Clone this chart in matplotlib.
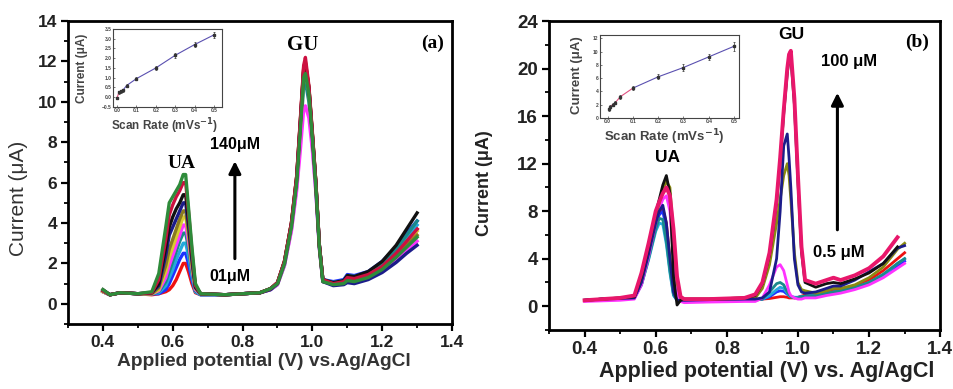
import matplotlib
matplotlib.use("Agg", force=True)
import matplotlib.pyplot as plt
import numpy as np

nan = float("nan")

# ---------------- panel (a) data ----------------
x_a = [0.40, 0.42, 0.45, 0.50,
       0.54, 0.56, 0.58, 0.59, 0.60, 0.61, 0.62, 0.63, 0.637, 0.645, 0.655, 0.665, 0.68,
       0.75, 0.85,
       0.88, 0.90, 0.92, 0.94, 0.955, 0.965, 0.975, 0.98, 0.99, 1.00, 1.01, 1.02, 1.03,
       1.06, 1.09, 1.10, 1.12, 1.16, 1.20, 1.24, 1.27, 1.30]

a_red = [0.65, 0.45, 0.55, 0.50,
         0.45, 0.50, 0.60, 0.70, 0.90, 1.2, 1.6, 2.0, 2.0, 1.6, 1.0, 0.55, 0.45,
         0.45, 0.55,
         0.75, 1.05, 2.1, 4.0, 6.3, 8.9, 11.7, 12.0, 10.7, 8.4, 6.0, 2.9, 1.2,
         1.0, 1.05, 1.25, 1.2, 1.4, 1.8, 2.5, 3.1, 3.7]
a_blue = [0.60, 0.45, 0.55, 0.50,
          0.50, 0.50, 0.70, 1.0, 1.4, 1.8, 2.2, 2.5, 2.5, 2.0, 1.2, 0.60, 0.45,
          0.45, 0.55,
          0.75, 1.0, 2.0, 3.9, 6.1, 8.7, 11.4, 11.7, 10.5, 8.3, 5.9, 2.9, 1.2,
          1.1, 1.2, 1.45, 1.4, 1.6, 2.1, 2.8, 3.5, 4.1]
a_cyan = [0.60, 0.45, 0.55, 0.50,
          0.50, 0.55, 0.90, 1.3, 1.7, 2.2, 2.6, 3.0, 3.0, 2.4, 1.4, 0.60, 0.45,
          0.45, 0.55,
          0.75, 1.0, 2.0, 3.8, 6.0, 8.5, 11.2, 11.5, 10.4, 8.2, 5.8, 2.8, 1.2,
          1.05, 1.15, 1.4, 1.35, 1.55, 2.0, 2.7, 3.3, 3.9]
a_teal = [0.60, 0.45, 0.55, 0.50,
          0.50, 0.60, 1.1, 1.6, 2.1, 2.6, 3.1, 3.5, 3.5, 2.8, 1.6, 0.65, 0.50,
          0.45, 0.55,
          0.70, 0.95, 1.9, 3.7, 5.8, 8.2, 10.8, 11.0, 10.0, 7.9, 5.6, 2.8, 1.1,
          1.05, 1.1, 1.35, 1.3, 1.55, 2.0, 2.7, 3.4, 4.1]
a_magenta = [0.60, 0.45, 0.55, 0.50,
             0.50, 0.65, 1.3, 1.9, 2.4, 2.9, 3.4, 3.9, 3.9, 3.1, 1.8, 0.70, 0.50,
             0.45, 0.55,
             0.70, 0.95, 1.9, 3.6, 5.6, 7.5, 9.6, 9.8, 9.2, 7.6, 5.5, 2.7, 1.1,
             0.95, 1.0, 1.15, 1.1, 1.3, 1.6, 2.1, 2.6, 3.1]
a_yellow = [0.60, 0.45, 0.55, 0.50,
            0.50, 0.70, 1.6, 2.3, 2.8, 3.3, 3.8, 4.3, 4.3, 3.4, 1.9, 0.75, 0.50,
            0.45, 0.55,
            0.75, 1.0, 2.0, 3.9, 6.1, 8.6, 11.3, 11.5, 10.5, 8.3, 5.9, 2.9, 1.1,
            1.0, 1.05, 1.25, 1.2, 1.4, 1.8, 2.4, 3.0, 3.6]
a_olive = [0.65, 0.45, 0.55, 0.50,
           0.50, 0.80, 1.9, 2.7, 3.2, 3.7, 4.2, 4.6, 4.6, 3.6, 2.0, 0.80, 0.50,
           0.45, 0.55,
           0.75, 1.0, 2.1, 4.0, 6.2, 8.8, 11.6, 11.9, 10.7, 8.4, 6.0, 2.9, 1.2,
           1.0, 1.05, 1.25, 1.2, 1.4, 1.8, 2.4, 2.9, 3.4]
a_navy = [0.65, 0.45, 0.55, 0.50,
          0.55, 0.90, 2.4, 3.4, 3.8, 4.2, 4.6, 5.0, 5.0, 3.9, 2.2, 0.80, 0.50,
          0.45, 0.55,
          0.70, 1.0, 2.0, 3.9, 6.1, 8.7, 11.5, 11.8, 10.6, 8.3, 5.9, 2.9, 1.1,
          0.9, 0.95, 1.05, 1.0, 1.2, 1.55, 2.05, 2.5, 2.9]
a_black = [0.70, 0.45, 0.55, 0.50,
           0.55, 1.0, 2.8, 3.8, 4.3, 4.7, 5.0, 5.4, 5.4, 4.2, 2.4, 0.85, 0.50,
           0.45, 0.55,
           0.75, 1.05, 2.1, 4.0, 6.3, 8.9, 11.6, 11.9, 10.7, 8.4, 6.0, 2.9, 1.2,
           1.05, 1.15, 1.4, 1.35, 1.6, 2.1, 2.9, 3.7, 4.5]
a_crimson = [0.65, 0.45, 0.55, 0.50,
             0.55, 1.2, 3.2, 4.4, 4.9, 5.3, 5.6, 6.0, 6.0, 4.6, 2.6, 0.90, 0.50,
             0.45, 0.55,
             0.75, 1.05, 2.1, 4.0, 6.3, 9.0, 11.8, 12.2, 10.8, 8.5, 6.0, 2.9, 1.2,
             1.0, 1.1, 1.3, 1.25, 1.45, 1.85, 2.5, 3.1, 3.7]
a_green = [0.70, 0.45, 0.55, 0.50,
           0.60, 1.5, 3.8, 5.0, 5.3, 5.6, 5.9, 6.4, 6.4, 4.8, 2.8, 1.0, 0.50,
           0.45, 0.55,
           0.75, 1.0, 2.0, 3.8, 6.0, 8.5, 11.2, 11.4, 10.4, 8.2, 5.8, 2.8, 1.1,
           0.95, 1.0, 1.15, 1.1, 1.3, 1.7, 2.3, 2.8, 3.3]

# inset (a): peak current vs scan rate
ins_a_rate = [0.0, 0.01, 0.02, 0.03, 0.05, 0.1, 0.2, 0.3, 0.4, 0.5]
ins_a_cur = [-0.05, 0.25, 0.3, 0.35, 0.6, 0.95, 1.5, 2.15, 2.7, 3.2]
ins_a_err = [0.05, 0.08, 0.06, 0.06, 0.07, 0.08, 0.08, 0.12, 0.12, 0.15]

# ---------------- panel (b) data ----------------
x_b = [0.40, 0.45, 0.50,
       0.54, 0.56, 0.58, 0.60, 0.61, 0.62, 0.63, 0.64, 0.65, 0.66, 0.67, 0.68,
       0.75, 0.85,
       0.88, 0.90, 0.92, 0.94, 0.95, 0.96, 0.97, 0.975, 0.98, 0.99, 1.00, 1.01, 1.02,
       1.05, 1.08, 1.10, 1.12, 1.16, 1.20, 1.24, 1.28, 1.30]

b_red = [0.5, 0.6, 0.65,
         0.7, 1.9, 4.2, 6.9, 7.8, 8.2, 7.0, 4.0, 1.2, 0.5, 0.5, 0.5,
         0.55, 0.6,
         0.55, 0.6, 0.65, 0.75, 0.8, 0.8, 0.75, 0.7, 0.7, 0.7, 0.75, 0.85, 0.95,
         1.0, 1.2, 1.4, 1.4, 1.7, 2.2, 3.0, 4.0, 4.5]
b_blue = [0.5, 0.6, 0.65,
          0.7, 1.9, 4.2, 6.8, 7.7, 8.0, 6.5, 3.5, 1.0, 0.5, 0.5, 0.5,
          0.55, 0.6,
          0.55, 0.6, 0.8, 1.2, 1.3, 1.25, 1.0, 0.9, 0.8, 0.75, 0.75, 0.8, 0.85,
          0.9, 1.0, 1.1, 1.2, 1.5, 1.9, 2.5, 3.4, 3.8]
b_cyan = [0.5, 0.6, 0.65,
          0.7, 1.8, 3.9, 6.3, 7.0, 6.9, 5.2, 2.8, 0.9, 0.5, 0.5, 0.5,
          0.55, 0.6,
          0.55, 0.6, 0.9, 1.4, 1.6, 1.5, 1.1, 0.9, 0.8, 0.75, 0.75, 0.8, 0.85,
          0.9, 1.05, 1.2, 1.25, 1.55, 2.0, 2.6, 3.6, 4.0]
b_teal = [0.5, 0.6, 0.65,
          0.7, 1.8, 4.0, 6.5, 7.4, 7.3, 5.5, 3.0, 1.0, 0.5, 0.5, 0.5,
          0.55, 0.6,
          0.5, 0.6, 1.2, 1.9, 2.0, 1.8, 1.2, 1.0, 0.8, 0.7, 0.7, 0.8, 0.85,
          0.9, 1.1, 1.2, 1.3, 1.6, 2.0, 2.7, 3.6, 4.0]
b_magenta = [0.4, 0.45, 0.5,
             0.6, 1.8, 4.2, 7.0, 8.2, 9.0, 9.3, 8.0, 4.0, 1.0, 0.4, 0.3,
             0.35, 0.4,
             0.4, 0.7, 1.8, 3.3, 3.5, 3.0, 1.8, 1.2, 0.9, 0.7, 0.6, 0.6, 0.7,
             0.7, 0.9, 1.0, 1.1, 1.4, 1.8, 2.4, 3.2, 3.6]
b_olive = [0.5, 0.6, 0.7,
           0.8, 2.3, 4.6, 7.4, 8.7, 9.8, 10.5, 10.0, 6.0, 2.0, 0.7, 0.6,
           0.6, 0.7,
           0.7, 1.5, 3.5, 7.0, 9.0, 11.0, 12.0, 11.0, 9.0, 4.5, 2.0, 1.4, 1.3,
           1.1, 1.3, 1.5, 1.5, 1.8, 2.4, 3.3, 4.8, 5.3]
b_navy = [0.5, 0.6, 0.65,
          0.7, 2.0, 4.4, 7.0, 8.0, 8.5, 7.0, 4.0, 1.2, 0.5, 0.5, 0.5,
          0.55, 0.6,
          0.6, 0.7, 1.2, 4.0, 8.0, 13.5, 14.5, 12.5, 10.0, 4.0, 1.8, 1.2, 1.1,
          1.2, 1.5, 1.7, 1.7, 2.2, 2.9, 3.6, 4.9, 5.1]
b_black = [0.5, 0.6, 0.7,
           0.8, 2.5, 5.0, 7.8, 9.0, 10.2, 11.0, 9.5, 2.5, 0.1, 0.5, 0.6,
           0.6, 0.7,
           0.9, 1.9, 4.3, 8.7, 12.2, 16.2, 19.6, 20.8, 21.0, 17.0, 10.5, 4.6, 2.0,
           1.6, 1.9, 2.0, 1.9, 2.3, 2.8, 3.6, 5.0, nan]
b_pink = [0.5, 0.6, 0.7,
          0.9, 2.8, 5.3, 8.0, 8.8, 9.5, 10.0, 9.3, 6.5, 2.5, 0.8, 0.6,
          0.6, 0.7,
          1.0, 2.0, 4.5, 9.0, 12.5, 16.5, 20.0, 21.2, 21.5, 17.5, 11.0, 5.0, 2.2,
          1.9, 2.2, 2.4, 2.2, 2.6, 3.2, 4.2, 5.8, nan]

# inset (b)
ins_b_rate = [0.005, 0.01, 0.02, 0.03, 0.05, 0.1, 0.2, 0.3, 0.4, 0.5]
ins_b_cur = [1.3, 1.7, 2.0, 2.3, 3.2, 4.5, 6.2, 7.6, 9.2, 10.8]
ins_b_err = [0.2, 0.2, 0.2, 0.2, 0.3, 0.3, 0.4, 0.5, 0.5, 0.7]

plt.rcParams['font.family'] = ['Liberation Sans', 'DejaVu Sans']
plt.rcParams['font.weight'] = 'bold'
plt.rcParams['mathtext.default'] = 'bf'
SERIF = ['Liberation Serif', 'DejaVu Serif']

fig = plt.figure(figsize=(9.54, 3.89), dpi=100)


def style_main(ax, tick_size):
    for s in ax.spines.values():
        s.set_linewidth(2.0)
    ax.tick_params(which='major', direction='out', length=5, width=1.6, labelsize=tick_size,
                   top=False, right=False, pad=3, labelcolor='#222222')
    ax.tick_params(which='minor', direction='out', length=3, width=1.3,
                   top=False, right=False)
    for lab in ax.get_xticklabels() + ax.get_yticklabels():
        lab.set_fontweight('bold')


def style_inset(ax):
    for s in ax.spines.values():
        s.set_linewidth(0.8)
        s.set_color('#444444')
    ax.tick_params(which='both', direction='in', length=1.5, width=0.5, labelsize=3.5,
                   pad=1, colors='#444444')


# ---------------- panel (a) ----------------
ax1 = fig.add_axes([0.0713, 0.167, 0.4025, 0.779])
curves_a = [(a_red, '#ee1111'), (a_blue, '#1e32ff'), (a_cyan, '#22aadd'),
            (a_teal, '#1a8a8a'), (a_magenta, '#ff33ff'), (a_yellow, '#d8cc30'),
            (a_olive, '#8a7a20'), (a_navy, '#1c1c8a'), (a_black, '#111111'),
            (a_crimson, '#cc1040'), (a_green, '#2e8b3a')]
for y, c in curves_a:
    ax1.plot(x_a, y, color=c, lw=2.4, solid_joinstyle='round')

ax1.set_xlim(0.3, 1.4)
ax1.set_ylim(-1, 14)
ax1.set_xticks(np.arange(0.4, 1.41, 0.2))
ax1.set_xticks(np.arange(0.3, 1.41, 0.1), minor=True)
ax1.set_yticks(np.arange(0, 15, 2))
ax1.set_yticks(np.arange(-1, 15, 1), minor=True)
ax1.set_xticklabels(['0.4', '0.6', '0.8', '1.0', '1.2', '1.4'])
style_main(ax1, 12.5)
ax1.text(0.51, -0.125, 'Applied potential (V) vs.Ag/AgCl', transform=ax1.transAxes,
         fontsize=13.8, color='#333333', ha='center', va='center')
ax1.text(-0.13, 0.415, 'Current (\u03bcA)', transform=ax1.transAxes, rotation=90,
         fontsize=15, fontweight='normal', color='#333333', ha='center', va='center')

ax1.text(0.971, 12.8, 'GU', family=SERIF, fontsize=15, ha='center', va='center')
ax1.text(1.345, 12.9, '(a)', family=SERIF, fontsize=14, ha='center', va='center')
ax1.text(0.625, 6.97, 'UA', family=SERIF, fontsize=14, ha='center', va='center')
ax1.text(0.778, 7.87, '140\u03bcM', fontsize=11.5, ha='center', va='center')
ax1.text(0.763, 1.35, '01\u03bcM', fontsize=11.5, ha='center', va='center')
ax1.annotate('', xy=(0.778, 7.2), xytext=(0.778, 2.1),
             arrowprops=dict(arrowstyle='-|>', color='black', lw=2.2, mutation_scale=18))

ins1 = fig.add_axes([0.1185, 0.725, 0.114, 0.2005])
ins1.plot(ins_a_rate[:2], ins_a_cur[:2], color='#e05080', lw=0.8)
ins1.plot(ins_a_rate[1:], ins_a_cur[1:], color='#5a50b0', lw=0.8)
ins1.errorbar(ins_a_rate, ins_a_cur, yerr=ins_a_err, fmt='s', ms=1.5, color='#333333',
              elinewidth=0.5, capsize=1, capthick=0.5)
ins1.set_xlim(-0.02, 0.54)
ins1.set_ylim(-0.5, 3.5)
ins1.set_xticks(np.arange(0, 0.51, 0.1))
ins1.set_yticks(np.arange(-0.5, 3.51, 0.5))
style_inset(ins1)
ins1.text(-0.284, 0.5, 'Current (\u03bcA)', transform=ins1.transAxes, rotation=90,
          fontsize=8.5, color='#444444', ha='center', va='center')
ins1.text(0.47, -0.244, 'Scan Rate (mVs$^{-1}$)', transform=ins1.transAxes,
          fontsize=8.5, color='#444444', ha='center', va='center')

# ---------------- panel (b) ----------------
ax2 = fig.add_axes([0.5755, 0.1517, 0.41, 0.794])
curves_b = [(b_red, '#ee1111'), (b_blue, '#1e32ff'), (b_cyan, '#22aadd'),
            (b_teal, '#1a8a8a'), (b_magenta, '#ff33ff'), (b_olive, '#8a8a10'),
            (b_navy, '#1c1c8a'), (b_black, '#111111')]
for y, c in curves_b:
    ax2.plot(x_b, y, color=c, lw=2.0, solid_joinstyle='round')
ax2.plot(x_b, b_pink, color='#e8176b', lw=2.8, solid_joinstyle='round')

ax2.set_xlim(0.3, 1.4)
ax2.set_ylim(-2, 24)
ax2.set_xticks(np.arange(0.4, 1.41, 0.2))
ax2.set_xticks(np.arange(0.3, 1.41, 0.1), minor=True)
ax2.set_yticks(np.arange(0, 25, 4))
ax2.set_yticks(np.arange(-2, 25, 2), minor=True)
ax2.set_xticklabels(['0.4', '0.6', '0.8', '1.0', '1.2', '1.4'])
style_main(ax2, 13.5)
ax2.text(0.557, -0.136, 'Applied potential (V) vs. Ag/AgCl', transform=ax2.transAxes,
         fontsize=15.5, color='#222222', ha='center', va='center')
ax2.text(-0.164, 0.475, 'Current (\u03bcA)', transform=ax2.transAxes, rotation=90,
         fontsize=13, color='#222222', ha='center', va='center')

ax2.text(0.981, 22.9, 'GU', fontsize=12.5, ha='center', va='center')
ax2.text(1.335, 22.2, '(b)', family=SERIF, fontsize=14, ha='center', va='center')
ax2.text(0.632, 12.5, 'UA', fontsize=12.5, ha='center', va='center')
ax2.text(1.145, 20.6, '100 \u03bcM', fontsize=12, ha='center', va='center')
ax2.text(1.114, 4.5, '0.5 \u03bcM', fontsize=12, ha='center', va='center')
ax2.annotate('', xy=(1.111, 18.2), xytext=(1.111, 6.2),
             arrowprops=dict(arrowstyle='-|>', color='black', lw=2.2, mutation_scale=18))

ins2 = fig.add_axes([0.629, 0.6967, 0.1457, 0.2134])
ins2.plot(ins_b_rate[:6], ins_b_cur[:6], color='#e05080', lw=0.8)
ins2.plot(ins_b_rate[5:], ins_b_cur[5:], color='#5a50b0', lw=0.8)
ins2.errorbar(ins_b_rate, ins_b_cur, yerr=ins_b_err, fmt='s', ms=1.5, color='#333333',
              elinewidth=0.5, capsize=1, capthick=0.5)
ins2.set_xlim(-0.03, 0.52)
ins2.set_ylim(0, 12.5)
ins2.set_xticks(np.arange(0, 0.51, 0.1))
ins2.set_yticks(np.arange(0, 12.1, 2))
style_inset(ins2)
ins2.text(-0.165, 0.52, 'Current (\u03bcA)', transform=ins2.transAxes, rotation=90,
          fontsize=9.5, color='#444444', ha='center', va='center')
ins2.text(0.46, -0.229, 'Scan Rate (mVs$^{-1}$)', transform=ins2.transAxes,
          fontsize=9.5, color='#444444', ha='center', va='center')

fig.savefig('out.png', dpi=100)
